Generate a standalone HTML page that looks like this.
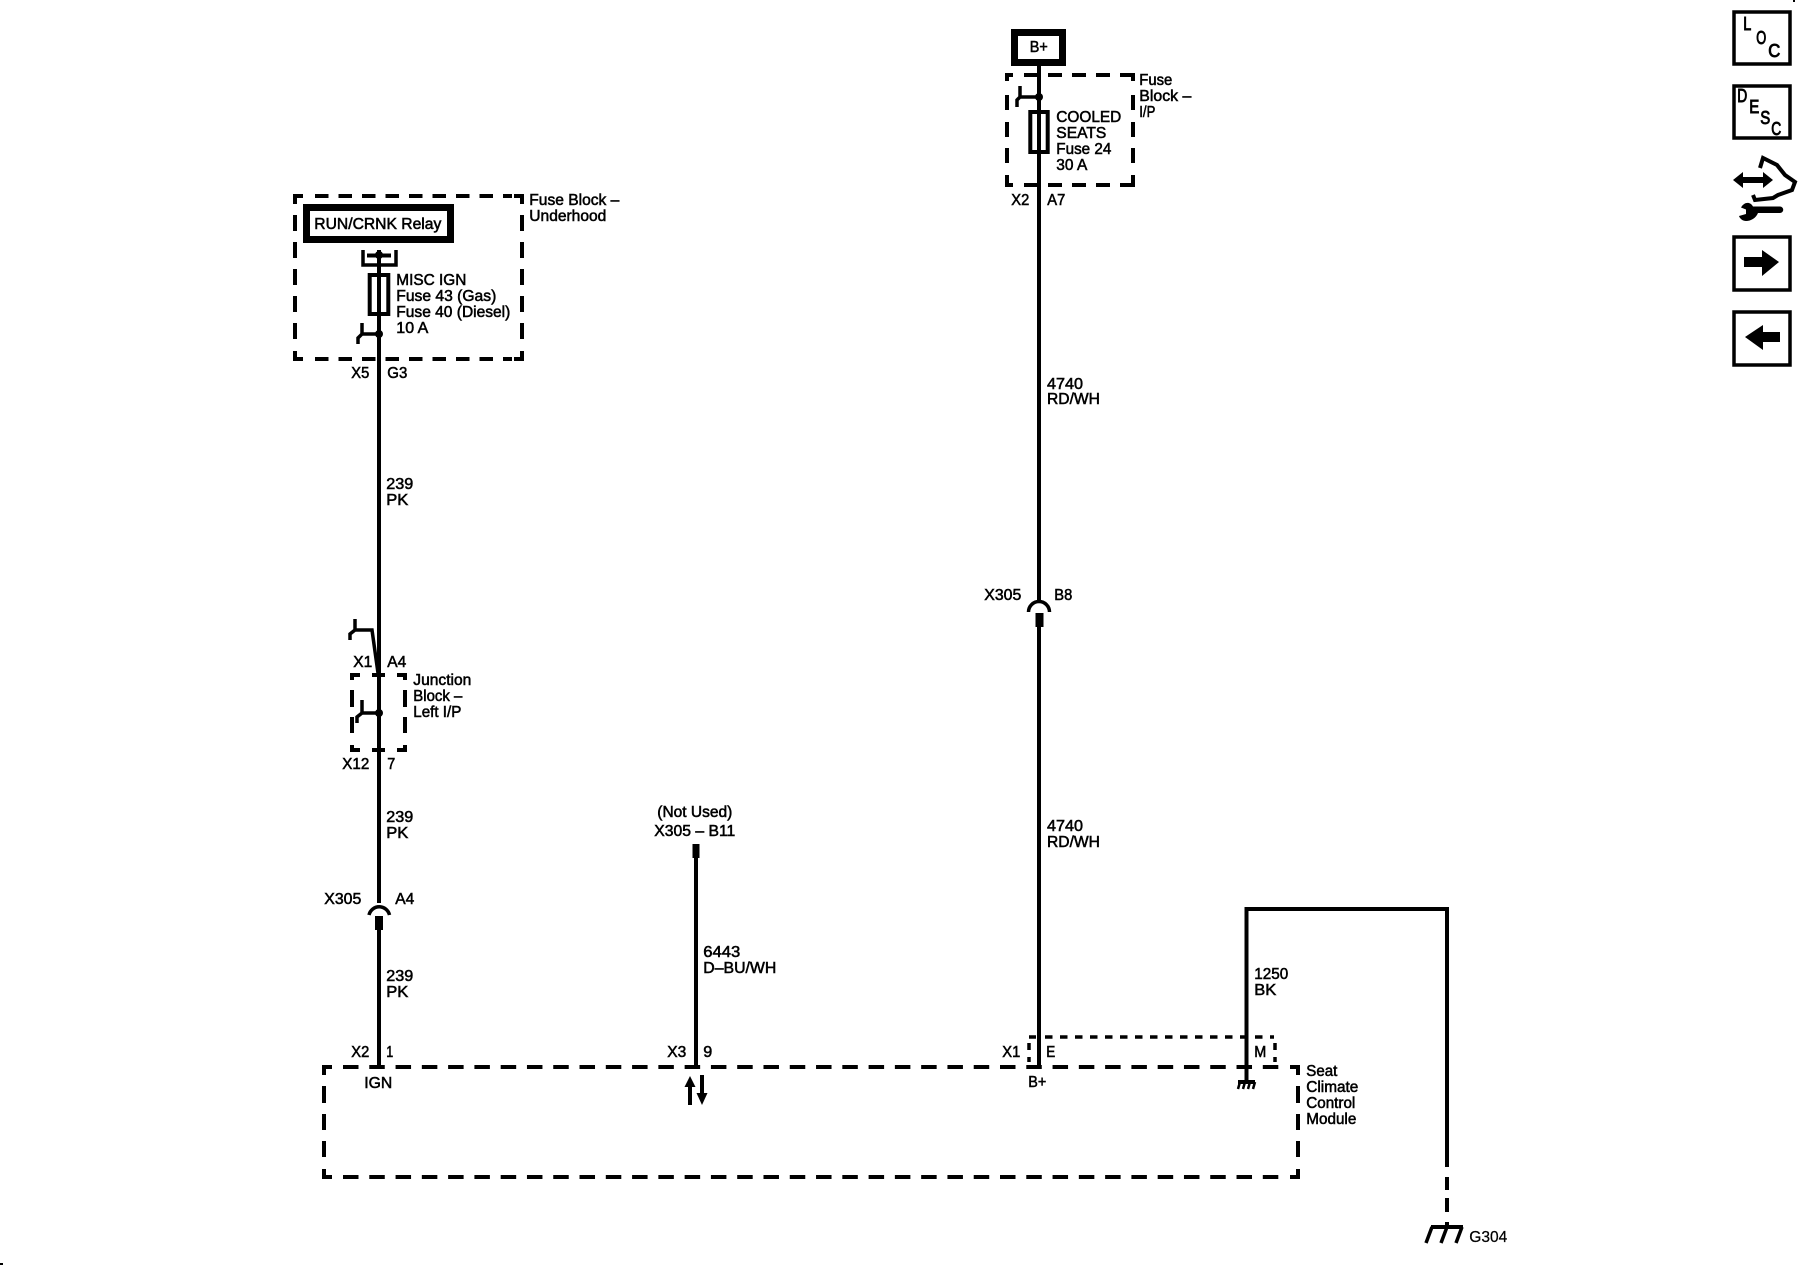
<!DOCTYPE html>
<html><head><meta charset="utf-8"><style>
html,body{margin:0;padding:0;background:#fff}
svg{display:block}
text{font-family:"Liberation Sans",sans-serif;font-size:16px;fill:#000;stroke:#000;stroke-width:.55px;transform:translate(-.7px,0)}
.n{fill:none;stroke:#000;stroke-width:3.5}
.w{fill:none;stroke:#000;stroke-width:4}
.d1{fill:none;stroke:#000;stroke-width:4;stroke-dasharray:13.5 10}
.d2{fill:none;stroke:#000;stroke-width:4;stroke-dasharray:16 11}
.d3{fill:none;stroke:#000;stroke-width:4;stroke-dasharray:15.5 10.78}
.i{font-size:18px;stroke-width:.9px}
</style></head><body>
<svg width="1800" height="1280" viewBox="0 0 1800 1280" xmlns="http://www.w3.org/2000/svg">
<rect width="1800" height="1280" fill="#fff"/>
<!-- left fuse block -->
<path class="w" d="M295 204V196H303M514 196H522V204M295 351V359H303M514 359H522V351"/>
<path class="d1" d="M315 196H512M315 359H512"/>
<path class="d2" d="M295 215V345M522 215V345"/>
<rect x="306.500" y="207.500" width="144" height="32" fill="#fff" stroke="#000" stroke-width="7"/>
<text x="315" y="229" textLength="127" lengthAdjust="spacingAndGlyphs">RUN/CRNK Relay</text>
<path class="w" d="M379 250V903"/>
<path class="n" d="M363 250V265H396V250"/>
<path d="M367 255.500H391" stroke="#000" stroke-width="4"/>
<circle cx="379" cy="255" r="4"/>
<rect x="369.700" y="275" width="18.600" height="39" fill="#fff" stroke="#000" stroke-width="4"/>
<path class="w" d="M379 270V320"/>
<path class="n" d="M379 334H362V323M362 334L358 338V344"/>
<circle cx="379" cy="334" r="4"/>
<text x="397" y="285" textLength="70" lengthAdjust="spacingAndGlyphs">MISC IGN</text>
<text x="397" y="301" textLength="100" lengthAdjust="spacingAndGlyphs">Fuse 43 (Gas)</text>
<text x="397" y="317" textLength="114" lengthAdjust="spacingAndGlyphs">Fuse 40 (Diesel)</text>
<text x="397" y="333" textLength="32" lengthAdjust="spacingAndGlyphs">10 A</text>
<text x="530" y="205" textLength="90" lengthAdjust="spacingAndGlyphs">Fuse Block –</text>
<text x="530" y="221" textLength="77" lengthAdjust="spacingAndGlyphs">Underhood</text>
<text x="352" y="378" textLength="18" lengthAdjust="spacingAndGlyphs">X5</text>
<text x="388" y="378" textLength="20" lengthAdjust="spacingAndGlyphs">G3</text>
<text x="387" y="489" textLength="27" lengthAdjust="spacingAndGlyphs">239</text>
<text x="387" y="505" textLength="22" lengthAdjust="spacingAndGlyphs">PK</text>
<!-- junction block -->
<path class="n" d="M378 673L372 630H355V619M355 630L350 634V640"/>
<path class="w" d="M352 680V675H360M397 675H405V680M352 745V750H360M397 750H405V745M372 675H385M372 750H385"/>
<path class="w" d="M352 690V707M352 717V733M405 690V707M405 717V733"/>
<path class="n" d="M379 713H362V700M362 713L357 717V723"/>
<circle cx="379" cy="713" r="4"/>
<text x="354" y="667" textLength="19" lengthAdjust="spacingAndGlyphs">X1</text>
<text x="388" y="667" textLength="19" lengthAdjust="spacingAndGlyphs">A4</text>
<text x="414" y="685" textLength="58" lengthAdjust="spacingAndGlyphs">Junction</text>
<text x="414" y="701" textLength="49" lengthAdjust="spacingAndGlyphs">Block –</text>
<text x="414" y="717" textLength="48" lengthAdjust="spacingAndGlyphs">Left I/P</text>
<text x="343" y="769" textLength="27" lengthAdjust="spacingAndGlyphs">X12</text>
<text x="388" y="769" textLength="8" lengthAdjust="spacingAndGlyphs">7</text>
<text x="387" y="822" textLength="27" lengthAdjust="spacingAndGlyphs">239</text>
<text x="387" y="838" textLength="22" lengthAdjust="spacingAndGlyphs">PK</text>
<!-- X305 A4 -->
<path class="n" d="M369 915A10.500 10.500 0 0 1 389.500 915"/>
<rect x="375" y="916" width="8" height="14"/>
<path class="w" d="M379 916V1067"/>
<text x="325" y="904" textLength="37" lengthAdjust="spacingAndGlyphs">X305</text>
<text x="396" y="904" textLength="19" lengthAdjust="spacingAndGlyphs">A4</text>
<text x="387" y="981" textLength="27" lengthAdjust="spacingAndGlyphs">239</text>
<text x="387" y="997" textLength="22" lengthAdjust="spacingAndGlyphs">PK</text>
<text x="352" y="1057" textLength="18" lengthAdjust="spacingAndGlyphs">X2</text>
<text x="387" y="1057" textLength="7" lengthAdjust="spacingAndGlyphs">1</text>
<text x="365" y="1088" textLength="28" lengthAdjust="spacingAndGlyphs">IGN</text>
<!-- middle wire -->
<rect x="692.500" y="844" width="7" height="14"/>
<path class="w" d="M696 850V1067"/>
<text x="658" y="817" textLength="75" lengthAdjust="spacingAndGlyphs">(Not Used)</text>
<text x="655" y="836" textLength="81" lengthAdjust="spacingAndGlyphs">X305 – B11</text>
<text x="704" y="957" textLength="37" lengthAdjust="spacingAndGlyphs">6443</text>
<text x="704" y="973" textLength="73" lengthAdjust="spacingAndGlyphs">D–BU/WH</text>
<text x="668" y="1057" textLength="19" lengthAdjust="spacingAndGlyphs">X3</text>
<text x="704" y="1057" textLength="9" lengthAdjust="spacingAndGlyphs">9</text>
<path class="w" d="M690 1084V1105M702 1075V1096"/>
<path d="M690 1076L695.500 1087H684.500ZM702 1105L696.500 1093H707.500Z"/>
<!-- right fuse block -->
<rect x="1014.500" y="32.500" width="48" height="30" fill="#fff" stroke="#000" stroke-width="7"/>
<text x="1030.500" y="52" textLength="18" lengthAdjust="spacingAndGlyphs">B+</text>
<path class="w" d="M1007 81V75H1013M1120 75H1133V81M1007 175V185H1013M1120 185H1133V175"/>
<path class="d1" d="M1024 75H1118M1024 185H1118" style="stroke-dasharray:14 10"/>
<path class="w" d="M1007 95V110M1007 122V137M1007 148V163M1133 95V110M1133 122V137M1133 148V163"/>
<path class="w" d="M1039 66V602"/>
<path class="n" d="M1039 97H1020V86M1020 97L1017 100V107"/>
<circle cx="1039" cy="97" r="4"/>
<rect x="1030.300" y="112" width="17.400" height="40" fill="#fff" stroke="#000" stroke-width="4"/>
<path class="w" d="M1039 105V160"/>
<text x="1057" y="122" textLength="65" lengthAdjust="spacingAndGlyphs">COOLED</text>
<text x="1057" y="138" textLength="50" lengthAdjust="spacingAndGlyphs">SEATS</text>
<text x="1057" y="154" textLength="55" lengthAdjust="spacingAndGlyphs">Fuse 24</text>
<text x="1057" y="170" textLength="31" lengthAdjust="spacingAndGlyphs">30 A</text>
<text x="1140" y="85" textLength="33" lengthAdjust="spacingAndGlyphs">Fuse</text>
<text x="1140" y="101" textLength="52" lengthAdjust="spacingAndGlyphs">Block –</text>
<text x="1140" y="117" textLength="16" lengthAdjust="spacingAndGlyphs">I/P</text>
<text x="1012" y="205" textLength="18" lengthAdjust="spacingAndGlyphs">X2</text>
<text x="1048" y="205" textLength="18" lengthAdjust="spacingAndGlyphs">A7</text>
<text x="1047.700" y="389" textLength="36" lengthAdjust="spacingAndGlyphs">4740</text>
<text x="1047.700" y="404" textLength="53" lengthAdjust="spacingAndGlyphs">RD/WH</text>
<path class="n" d="M1028.500 612A10.500 10.500 0 0 1 1049.500 612"/>
<rect x="1035.500" y="613" width="8" height="14"/>
<path class="w" d="M1039 620V1067"/>
<text x="985" y="600" textLength="37" lengthAdjust="spacingAndGlyphs">X305</text>
<text x="1055" y="600" textLength="18" lengthAdjust="spacingAndGlyphs">B8</text>
<text x="1047.700" y="831" textLength="36" lengthAdjust="spacingAndGlyphs">4740</text>
<text x="1047.700" y="847" textLength="53" lengthAdjust="spacingAndGlyphs">RD/WH</text>
<!-- dotted sub-box -->
<path fill="none" stroke="#000" stroke-width="3.500" stroke-dasharray="7.500 7.500" d="M1045 1037H1274"/>
<path fill="none" stroke="#000" stroke-width="3.500" d="M1029 1037H1036M1029 1043V1050M1029 1057V1062M1275 1043V1050M1275 1057V1062"/>
<text x="1003" y="1057" textLength="18" lengthAdjust="spacingAndGlyphs">X1</text>
<text x="1047" y="1057" textLength="9" lengthAdjust="spacingAndGlyphs">E</text>
<text x="1255" y="1057" textLength="12" lengthAdjust="spacingAndGlyphs">M</text>
<text x="1029" y="1087" textLength="18" lengthAdjust="spacingAndGlyphs">B+</text>
<!-- 1250 wire -->
<path class="w" d="M1447 1167V907M1449 909H1246.500V1083"/>
<path class="w" d="M1238 1082H1255"/>
<path fill="none" stroke="#000" stroke-width="2.500" d="M1240 1082L1238 1089M1245 1082L1243 1089M1250 1082L1248 1089M1255 1082L1253 1089"/>
<text x="1255" y="979" textLength="34" lengthAdjust="spacingAndGlyphs">1250</text>
<text x="1255" y="995" textLength="22" lengthAdjust="spacingAndGlyphs">BK</text>
<path class="w" d="M1447 1177V1190M1447 1198V1212M1447 1222V1228"/>
<path class="w" d="M1431 1227H1463"/>
<path fill="none" stroke="#000" stroke-width="3.500" d="M1432 1227L1426 1243M1447 1227L1441 1243M1462 1227L1456 1243"/>
<text x="1470" y="1242" textLength="38" lengthAdjust="spacingAndGlyphs" style="stroke-width:.25px">G304</text>
<!-- module box -->
<path class="w" d="M324 1075V1067H332M324 1169V1177H332M1290 1067H1298V1075M1290 1177H1298V1169"/>
<path class="d3" d="M343 1067H1281M343 1177H1281"/>
<path class="w" d="M324 1086V1103M324 1114V1130M324 1141V1157M1298 1086V1103M1298 1114V1130M1298 1141V1157"/>
<text x="1307" y="1076" textLength="31" lengthAdjust="spacingAndGlyphs">Seat</text>
<text x="1307" y="1092" textLength="52" lengthAdjust="spacingAndGlyphs">Climate</text>
<text x="1307" y="1108" textLength="49" lengthAdjust="spacingAndGlyphs">Control</text>
<text x="1307" y="1124" textLength="50" lengthAdjust="spacingAndGlyphs">Module</text>
<!-- icons -->
<rect x="1734" y="12" width="56" height="52" fill="#fff" stroke="#000" stroke-width="3.500"/>
<text class="i" x="1744" y="30" textLength="8" lengthAdjust="spacingAndGlyphs">L</text>
<text class="i" x="1757" y="44" textLength="10" lengthAdjust="spacingAndGlyphs">O</text>
<text class="i" x="1769" y="57" textLength="12" lengthAdjust="spacingAndGlyphs">C</text>
<rect x="1734" y="86" width="56" height="52" fill="#fff" stroke="#000" stroke-width="3.500"/>
<text class="i" x="1738" y="102" textLength="10" lengthAdjust="spacingAndGlyphs">D</text>
<text class="i" x="1750" y="113" textLength="10" lengthAdjust="spacingAndGlyphs">E</text>
<text class="i" x="1761" y="124" textLength="10" lengthAdjust="spacingAndGlyphs">S</text>
<text class="i" x="1772" y="135" textLength="10" lengthAdjust="spacingAndGlyphs">C</text>
<path fill="none" stroke="#000" stroke-width="4" d="M1760 168L1763 158L1777 165L1785 175L1795 182L1792 190L1778 195L1773 198L1755 200L1753 195"/>
<path d="M1733 180L1743 172V177H1763V172L1773 180L1763 188V183H1743V188Z"/>
<path d="M1753 206.500H1780A3 3 0 0 1 1780 213H1758C1756 218 1751 221 1746 221C1743 221 1740 219 1739 216L1746 214V209.500L1741 207.500C1744 202 1750 201 1753 206.500Z"/>
<rect x="1734" y="237" width="56" height="53" fill="#fff" stroke="#000" stroke-width="3.500"/>
<path d="M1744 257H1762V250L1779 262L1762 276V267H1744Z"/>
<rect x="1734" y="312" width="56" height="53" fill="#fff" stroke="#000" stroke-width="3.500"/>
<path d="M1780 332H1763V325L1745 337L1763 350V342H1780Z"/>
<rect x="0" y="1263" width="3" height="2"/>
<rect x="1793" y="0" width="2" height="2"/>
</svg>
</body></html>
